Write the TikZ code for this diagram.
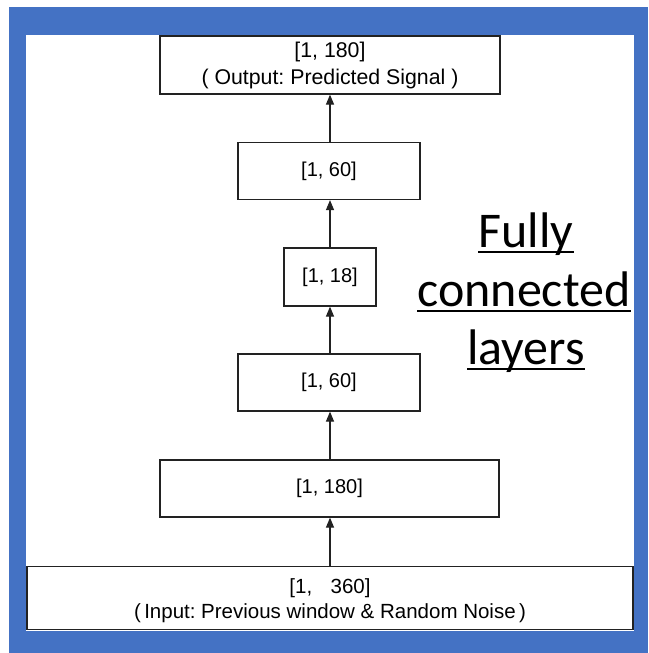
\documentclass[tikz,border=0pt]{standalone}
\usepackage{fontspec}
\setmainfont{Liberation Sans}
\newfontfamily\calib{Carlito}
\usetikzlibrary{arrows.meta,calc}
\definecolor{frameblue}{HTML}{4472C4}
\definecolor{boxline}{HTML}{222222}
\frenchspacing
\begin{document}
\begin{tikzpicture}[x=1pt,y=-1pt,
  layer/.style={draw=boxline,line width=1.2pt,fill=white,inner sep=0pt,align=center,font=\fontsize{20}{27}\selectfont},
  conn/.style={draw=boxline,line width=1.2pt,-{Triangle[width=8pt,length=10pt]}},
  bigtxt/.style={inner sep=0pt,anchor=base,font=\calib\fontsize{50}{58}\selectfont}]
\useasboundingbox (0,0) rectangle (648,653);
\fill[white] (0,0) rectangle (648,653);
\fill[frameblue] (9,7) rectangle (648,653);
\fill[white] (26,35) rectangle (634,631);
\node[layer,minimum width=340pt,minimum height=58pt,font=\fontsize{21.3}{27}\selectfont] (out) at (330,65) {[1, 180]\\( Output: Predicted Signal )};
\node[layer,minimum width=182pt,minimum height=57pt] (h60b) at (329,171) {[1, 60]};
\node[layer,minimum width=92pt,minimum height=58pt] (h18) at (330,277) {[1, 18]};
\node[layer,minimum width=182pt,minimum height=57pt] (h60a) at (329,382.5) {[1, 60]};
\node[layer,minimum width=339pt,minimum height=57pt] (h180) at (329.5,488.5) {[1, 180]};
\node[layer,minimum width=606pt,minimum height=63pt] (in) at (330,598) {};
\node[inner sep=0pt,align=center,font=\fontsize{20.5}{25}\selectfont] (intext) at (330,600.5) {[1,\hspace{0.9em}360]\\(\,Input: Previous window \& Random Noise\,)};
\draw[conn] (in.north -| 330,0) -- (h180.south -| 330,0);
\draw[conn] (h180.north -| 330,0) -- (h60a.south -| 330,0);
\draw[conn] (h60a.north -| 330,0) -- (h18.south -| 330,0);
\draw[conn] (h18.north -| 330,0) -- (h60b.south -| 330,0);
\draw[conn] (h60b.north -| 330,0) -- (out.south -| 330,0);
\node[bigtxt] (t1) at (526,247) {Fully};
\node[bigtxt] (t2) at (524,306) {connected};
\node[bigtxt] (t3) at (526,364) {layers};
\foreach \n in {t1,t2,t3}{
  \draw[line width=2pt] ($(\n.base west)+(0,5)$) -- ($(\n.base east)+(0,5)$);
}
\end{tikzpicture}
\end{document}
